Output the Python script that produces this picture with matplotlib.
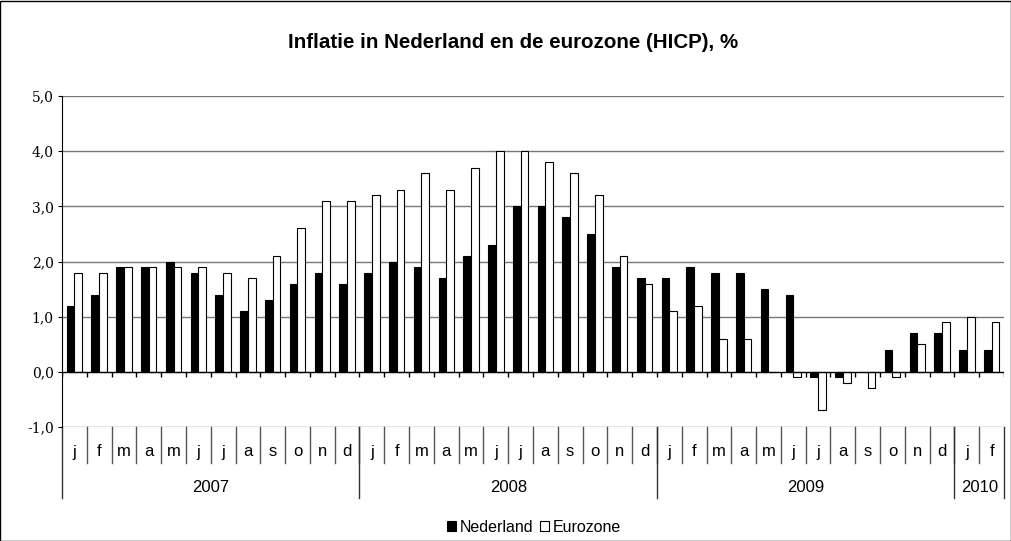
import numpy as np
import matplotlib
matplotlib.use('Agg')
import matplotlib.pyplot as plt
from matplotlib.transforms import blended_transform_factory
from matplotlib.patches import Rectangle

# data
months = ['j', 'f', 'm', 'a', 'm', 'j', 'j', 'a', 's', 'o', 'n', 'd'] * 3 + ['j', 'f']
years = ['2007', '2008', '2009', '2010']
year_len = [12, 12, 12, 2]
nederland = [1.2, 1.4, 1.9, 1.9, 2.0, 1.8, 1.4, 1.1, 1.3, 1.6, 1.8, 1.6,
             1.8, 2.0, 1.9, 1.7, 2.1, 2.3, 3.0, 3.0, 2.8, 2.5, 1.9, 1.7,
             1.7, 1.9, 1.8, 1.8, 1.5, 1.4, -0.1, -0.1, 0.0, 0.4, 0.7, 0.7,
             0.4, 0.4]
eurozone = [1.8, 1.8, 1.9, 1.9, 1.9, 1.9, 1.8, 1.7, 2.1, 2.6, 3.1, 3.1,
            3.2, 3.3, 3.6, 3.3, 3.7, 4.0, 4.0, 3.8, 3.6, 3.2, 2.1, 1.6,
            1.1, 1.2, 0.6, 0.6, 0.0, -0.1, -0.7, -0.2, -0.3, -0.1, 0.5, 0.9,
            1.0, 0.9]

fig = plt.figure(figsize=(10.12, 5.41), dpi=100)
W, H = 1012, 541
ax = fig.add_axes([62 / W, 114 / H, (1004 - 62) / W, (427 - 96) / H])

x = np.arange(len(months))
w = 0.31
ax.bar(x - w / 2, nederland, w, color='black', edgecolor='black', lw=0.8,
       label='Nederland', zorder=3)
ax.bar(x + w / 2, eurozone, w, color='white', edgecolor='black', lw=0.8,
       label='Eurozone', zorder=3)

ax.set_xlim(-0.5, len(months) - 0.5)
ax.set_ylim(-1, 5)
ax.set_yticks(np.arange(-1, 6))
ax.set_yticklabels([f'{v:.1f}'.replace('.', ',') for v in np.arange(-1, 6)],
                   family='DejaVu Serif', fontsize=10)
ax.set_xticks([])
for v in range(-1, 6):
    if v != 0:
        ax.axhline(v, color='#777777', lw=1, zorder=1)
ax.axhline(0, color='black', lw=1, zorder=4)
bounds = np.arange(len(months) + 1) - 0.5
ax.vlines(bounds, -0.09, 0, color='black', lw=1, zorder=4)

for s in ['top', 'right', 'bottom']:
    ax.spines[s].set_visible(False)
ax.spines['left'].set_color('black')
ax.tick_params(axis='y', length=3, color='black', pad=3)

# category labels below the plot
tr = blended_transform_factory(ax.transData, ax.transAxes)
ah = 427 - 96
for i, m in enumerate(months):
    ax.text(i, -25 / ah, m, transform=tr, ha='center', va='center',
            family='Liberation Sans', fontsize=12)
for b in bounds[1:-1]:
    ax.plot([b, b], [0, -36 / ah], transform=tr, color='#555555', lw=1,
            clip_on=False)
start = 0
for yr, n in zip(years, year_len):
    ax.text(start + n / 2 - 0.5, -61 / ah, yr, transform=tr, ha='center',
            va='center', family='Liberation Sans', fontsize=12)
    ax.plot([start - 0.5, start - 0.5], [0, -71 / ah], transform=tr,
            color='#333333', lw=1, clip_on=False)
    start += n
ax.plot([start - 0.5, start - 0.5], [0, -71 / ah], transform=tr,
        color='#333333', lw=1, clip_on=False)

fig.text(513 / W, 1 - 43 / H, 'Inflatie in Nederland en de eurozone (HICP), %',
         ha='center', va='center', family='Liberation Sans',
         fontweight='bold', fontsize=14.8)

fig.legend(loc='center', bbox_to_anchor=(534 / W, 1 - 527 / H), ncol=2,
           frameon=False, prop={'family': 'Liberation Sans', 'size': 11.5},
           handlelength=0.55, handleheight=0.55, handletextpad=0.25,
           columnspacing=0.4)

fig.patches.append(Rectangle((0.5 / W, 0.5 / H), 1 - 1.5 / W, 1 - 1.5 / H,
                             transform=fig.transFigure, fill=False,
                             edgecolor='black', lw=1))

fig.savefig('out.png', dpi=100)
